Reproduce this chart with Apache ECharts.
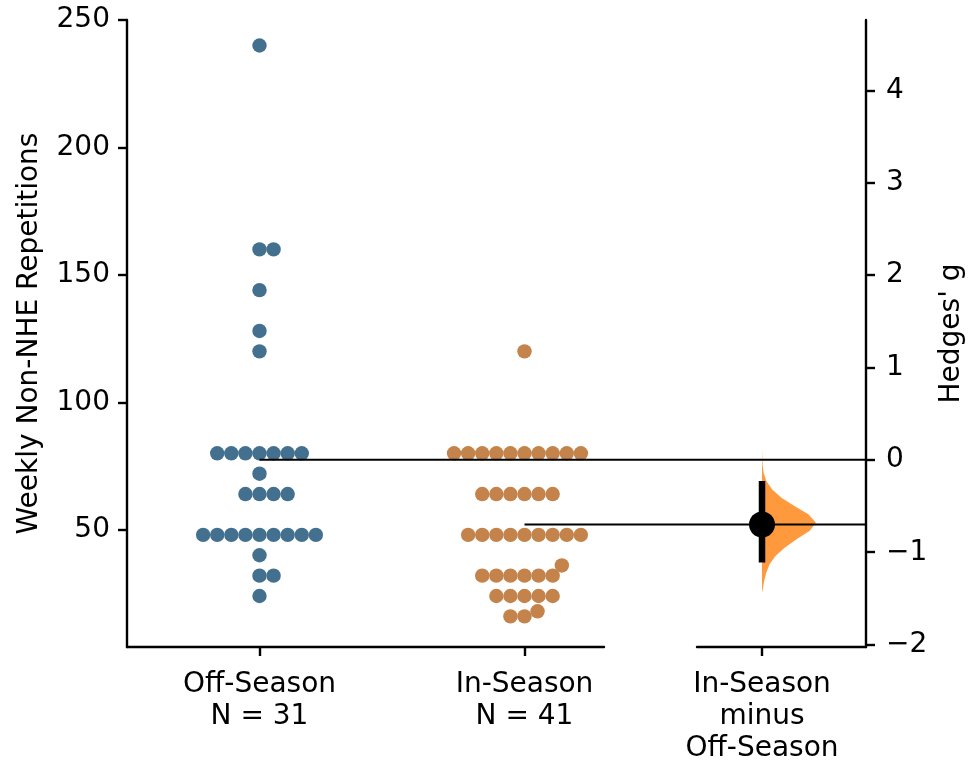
<!DOCTYPE html>
<html>
<head>
<meta charset="utf-8">
<script src="https://cdn.jsdelivr.net/npm/echarts@6.0.0/dist/echarts.min.js"></script>
<style>
html,body{margin:0;padding:0;background:#fff;}
#chart{width:973px;height:763px;}
</style>
</head>
<body>
<div id="chart"></div>
<script>
// ---------------- data ----------------
const categories = ['Off-Season', 'In-Season'];
const offSeason = [240, 160, 160, 144, 128, 120,
  80, 80, 80, 80, 80, 80, 80, 72, 64, 64, 64, 64,
  48, 48, 48, 48, 48, 48, 48, 48, 48, 40, 32, 32, 24];
const inSeason = [120,
  80, 80, 80, 80, 80, 80, 80, 80, 80, 80,
  64, 64, 64, 64, 64, 64,
  48, 48, 48, 48, 48, 48, 48, 48, 48,
  36, 32, 32, 32, 32, 32, 32,
  24, 24, 24, 24, 24, 18, 16, 16];
const effectLabel = categories[1] + '\nminus\n' + categories[0];
const hedgesG = -0.70;
const ciLow = -1.11;
const ciHigh = -0.23;
// bootstrap distribution of g: g positions and relative density
const violinG = [0.11, -0.05, -0.14, -0.23, -0.32, -0.41, -0.50, -0.59, -0.68, -0.77, -0.86, -0.95, -1.04, -1.13, -1.22, -1.31, -1.44];
const violinW = [0, 0.01, 0.03, 0.08, 0.19, 0.36, 0.60, 0.86, 1.0, 0.88, 0.64, 0.42, 0.25, 0.14, 0.08, 0.04, 0];
const leftTicks = [50, 100, 150, 200, 250];
const rightTicks = [-2, -1, 0, 1, 2, 3, 4];

// ---------------- style / layout ----------------
const FONT = 'DejaVu Sans';
const FS = 28;
const blue = '#44708F';
const brown = '#C3834A';
const violinColor = 'rgba(255,127,14,0.8)';
const dotSize = 14.4;
const swarmR = 6.71;
const leftMin = 4, leftMax = 250;
const mainXMin = -0.5, mainXMax = 1.3;
const G0 = {left: 127, top: 20, width: 477, height: 627};
const G1 = {left: 697, top: 20, width: 169, height: 627};
const G2 = {left: 127, top: 20, width: 739, height: 627};
const overlayXMax = mainXMin + (mainXMax - mainXMin) * G2.width / G0.width;
const violinScale = 0.83;

const groups = [offSeason, inSeason];
const mean = a => a.reduce((s, v) => s + v, 0) / a.length;
const means = groups.map(mean);
// right (Hedges' g) axis aligned: 0 at control mean, g at test mean
const gPerUnit = hedgesG / (means[1] - means[0]);
const rightMin = (leftMin - means[0]) * gPerUnit;
const rightMax = (leftMax - means[0]) * gPerUnit;

const minusFmt = v => (v < 0 ? '\u2212' + Math.abs(v) : String(v));
const axisLineStyle = {color: '#000', width: 2.4};
const labelStyle = {color: '#000', fontFamily: FONT, fontSize: FS};

const chart = echarts.init(document.getElementById('chart'), null, {renderer: 'canvas'});

const base = {
  animation: false,
  backgroundColor: '#fff',
  textStyle: {fontFamily: FONT},
  grid: [
    Object.assign({outerBoundsMode: 'none', containLabel: false}, G0),
    Object.assign({outerBoundsMode: 'none', containLabel: false}, G1),
    Object.assign({outerBoundsMode: 'none', containLabel: false}, G2)
  ],
  xAxis: [
    {
      gridIndex: 0, type: 'value', min: mainXMin, max: mainXMax,
      splitLine: {show: false},
      axisLine: {show: true, onZero: false, lineStyle: axisLineStyle},
      axisTick: {show: true, length: 9, lineStyle: axisLineStyle, customValues: [0, 1]},
      axisLabel: Object.assign({
        customValues: [0, 1], margin: 22, lineHeight: 32, align: 'center',
        formatter: v => categories[Math.round(v)] + '\nN = ' + groups[Math.round(v)].length
      }, labelStyle)
    },
    {
      gridIndex: 1, type: 'value', min: -1, max: 1.6,
      splitLine: {show: false},
      axisLine: {show: true, onZero: false, lineStyle: axisLineStyle},
      axisTick: {show: true, length: 9, lineStyle: axisLineStyle, customValues: [0]},
      axisLabel: Object.assign({
        customValues: [0], margin: 22, lineHeight: 32, align: 'center',
        formatter: () => effectLabel
      }, labelStyle)
    },
    {gridIndex: 2, type: 'value', min: mainXMin, max: overlayXMax, show: false}
  ],
  yAxis: [
    {
      gridIndex: 0, type: 'value', min: leftMin, max: leftMax, position: 'left',
      name: 'Weekly Non-NHE Repetitions', nameLocation: 'middle', nameRotate: 90, nameGap: 83,
      nameTextStyle: labelStyle,
      splitLine: {show: false},
      axisLine: {show: true, onZero: false, lineStyle: axisLineStyle},
      axisTick: {show: true, length: 9, lineStyle: axisLineStyle, customValues: leftTicks},
      axisLabel: Object.assign({customValues: leftTicks, margin: 17}, labelStyle)
    },
    {
      gridIndex: 1, type: 'value', min: rightMin, max: rightMax, position: 'right',
      name: "Hedges' g", nameLocation: 'middle', nameRotate: 90, nameGap: 72,
      nameTextStyle: labelStyle,
      splitLine: {show: false},
      axisLine: {show: true, onZero: false, lineStyle: axisLineStyle},
      axisTick: {show: true, length: 9, lineStyle: axisLineStyle, customValues: rightTicks},
      axisLabel: Object.assign({customValues: rightTicks, margin: 20, formatter: minusFmt}, labelStyle)
    },
    {gridIndex: 2, type: 'value', min: leftMin, max: leftMax, show: false}
  ],
  series: []
};
chart.setOption(base);

// seaborn-like beeswarm computed in pixel space, mapped back through the axes
function beeswarm(values, center, preferRight) {
  const sorted = values.slice().sort((a, b) => a - b);
  const mid = chart.convertToPixel({gridIndex: 0}, [center, sorted[0]])[0];
  const pts = sorted.map(v => ({v: v, x: mid, y: chart.convertToPixel({gridIndex: 0}, [center, v])[1]}));
  const r2 = 2 * swarmR;
  const swarm = [pts[0]];
  const side = x => (x > mid + 1e-6 ? 1 : (x < mid - 1e-6 ? -1 : 0));
  for (let i = 1; i < pts.length; i++) {
    const p = pts[i];
    const nb = [];
    for (let j = swarm.length - 1; j >= 0; j--) {
      if ((swarm[j].y - p.y) < r2) nb.push(swarm[j]); else break;
    }
    let chosen = p.x;
    if (nb.length) {
      const cands = [p.x];
      let leftFirst = true;
      nb.forEach(n => {
        const dy = p.y - n.y;
        const dx = Math.sqrt(Math.max(r2 * r2 - dy * dy, 0)) * 1.05;
        if (leftFirst) cands.push(n.x - dx, n.x + dx); else cands.push(n.x + dx, n.x - dx);
        leftFirst = !leftFirst;
      });
      const arr = cands.map((x, idx) => ({x: x, idx: idx, off: Math.abs(x - mid)}));
      arr.sort((a, b) => {
        const d = a.off - b.off;
        if (Math.abs(d) > 1e-6) return d;
        const sa = side(a.x), sb = side(b.x);
        if (sa !== sb) return preferRight ? sb - sa : sa - sb;
        return a.idx - b.idx;
      });
      for (const c of arr) {
        const ok = nb.every(n => (n.x - c.x) * (n.x - c.x) + (n.y - p.y) * (n.y - p.y) >= r2 * r2 - 1e-6);
        if (ok) { chosen = c.x; break; }
      }
    }
    swarm.push({v: p.v, x: chosen, y: p.y});
  }
  return swarm.map(s => [chart.convertFromPixel({gridIndex: 0}, [s.x, s.y])[0], s.v]);
}

const swarmOff = beeswarm(offSeason, 0, true);
const swarmIn = beeswarm(inSeason, 1, false);

const violinData = violinG.map((g, i) => [violinW[i], g]);

chart.setOption({
  series: [
    {
      type: 'scatter', xAxisIndex: 0, yAxisIndex: 0, data: swarmOff,
      symbolSize: dotSize, itemStyle: {color: blue, opacity: 1}, z: 3, silent: true
    },
    {
      type: 'scatter', xAxisIndex: 0, yAxisIndex: 0, data: swarmIn,
      symbolSize: dotSize, itemStyle: {color: brown, opacity: 1}, z: 3, silent: true
    },
    {
      type: 'custom', xAxisIndex: 1, yAxisIndex: 1, data: [0], z: 2, silent: true,
      renderItem: function (params, api) {
        const pts = violinData.map(d => api.coord([d[0] * violinScale, d[1]]));
        const back = violinData.slice().reverse().map(d => api.coord([0, d[1]]));
        return {
          type: 'polygon',
          shape: {points: pts.concat(back)},
          style: {fill: violinColor, stroke: null}
        };
      }
    },
    {
      type: 'line', xAxisIndex: 2, yAxisIndex: 2, z: 4, silent: true, symbol: 'none',
      data: [[0, means[0]], [overlayXMax, means[0]]],
      lineStyle: {color: '#000', width: 2}
    },
    {
      type: 'line', xAxisIndex: 2, yAxisIndex: 2, z: 4, silent: true, symbol: 'none',
      data: [[1, means[1]], [overlayXMax, means[1]]],
      lineStyle: {color: '#000', width: 2}
    },
    {
      type: 'line', xAxisIndex: 1, yAxisIndex: 1, z: 5, silent: true, symbol: 'none',
      data: [[0, ciLow], [0, ciHigh]],
      lineStyle: {color: '#000', width: 6.5, cap: 'butt'}
    },
    {
      type: 'scatter', xAxisIndex: 1, yAxisIndex: 1, z: 6, silent: true,
      data: [[0, hedgesG]], symbolSize: 26, itemStyle: {color: '#000', opacity: 1}
    }
  ]
});
</script>
</body>
</html>
